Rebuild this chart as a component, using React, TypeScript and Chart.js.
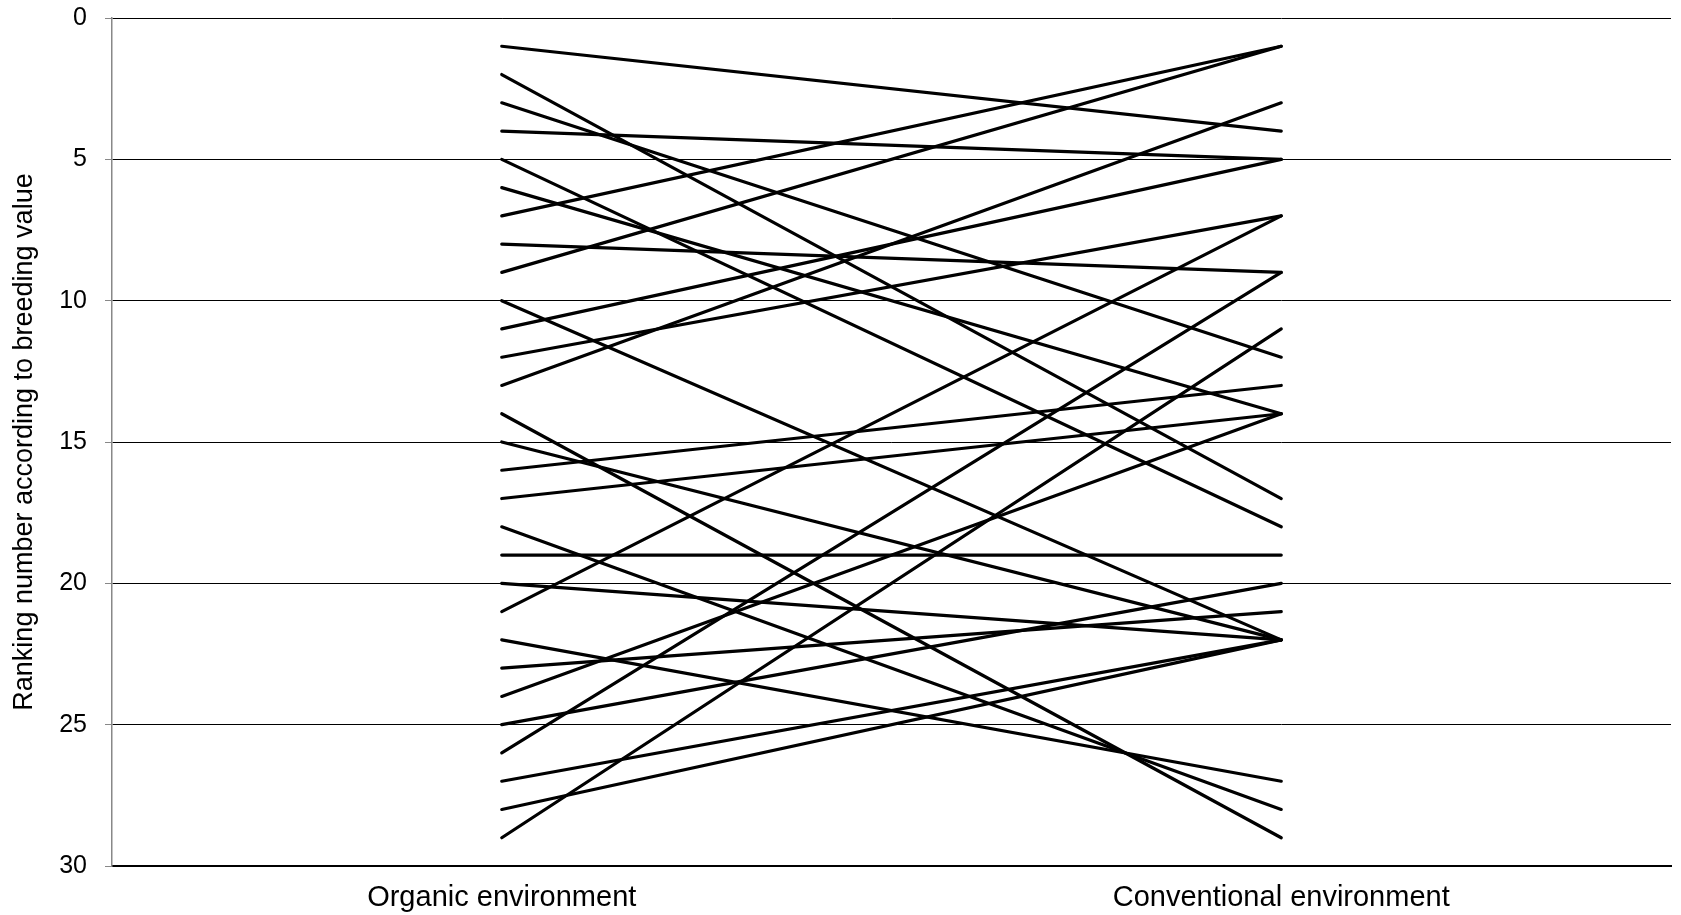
import React, { useEffect, useRef } from "react";
import { Chart, registerables } from "chart.js";

Chart.register(...registerables);

const categories = ["Organic environment", "Conventional environment"];
const organicRank = [1, 2, 3, 4, 5, 6, 7, 8, 9, 10, 11, 12, 13, 14, 15, 16, 17, 18, 19, 20, 21, 22, 23, 24, 25, 26, 27, 28, 29];
const conventionalRank = [4, 17, 12, 5, 18, 14, 1, 9, 1, 22, 5, 7, 3, 29, 22, 13, 14, 28, 19, 22, 7, 27, 21, 14, 20, 9, 22, 22, 11];
const yTicks = [0, 5, 10, 15, 20, 25, 30];
const yTitle = "Ranking number according to breeding value";

const FONT = '"Liberation Sans", Arial, sans-serif';

export default function App() {
  const ref = useRef<HTMLCanvasElement | null>(null);

  useEffect(() => {
    if (!ref.current) return;
    const datasets = organicRank.map((o, i) => ({
      label: "Line " + (i + 1),
      data: [o, conventionalRank[i]],
      borderColor: "#000000",
      backgroundColor: "#000000",
      borderWidth: 3.2,
      borderCapStyle: "round" as const,
      pointRadius: 0,
      pointHoverRadius: 0,
      tension: 0,
      fill: false,
    }));
    const chart = new Chart(ref.current, {
      type: "line",
      data: { labels: categories, datasets },
      options: {
        animation: false,
        responsive: false,
        devicePixelRatio: 1,
        layout: { padding: { top: 18, right: 10, bottom: 0, left: 0 } },
        plugins: { legend: { display: false }, tooltip: { enabled: false } },
        scales: {
          x: {
            type: "category",
            offset: true,
            grid: { display: false, drawTicks: false },
            border: { display: true, color: "#000000", width: 2 },
            ticks: {
              padding: 15,
              color: "#000000",
              font: { family: FONT, size: 29 },
            },
            afterFit: (s: any) => {
              s.height = 49;
              s.paddingLeft = 0;
              s.paddingRight = 0;
            },
          },
          y: {
            type: "linear",
            reverse: true,
            min: yTicks[0],
            max: yTicks[yTicks.length - 1],
            afterBuildTicks: (s: any) => {
              s.ticks = yTicks.map((v) => ({ value: v }));
            },
            grid: { color: "#000000", lineWidth: 1, tickColor: "#888888", tickLength: 7 },
            border: { display: true, color: "#888888", width: 1.5 },
            ticks: {
              padding: 18,
              color: "#000000",
              font: { family: FONT, size: 25 },
            },
            title: {
              display: true,
              text: yTitle,
              color: "#000000",
              font: { family: FONT, size: 27 },
              padding: { top: 8, bottom: 0 },
            },
            afterFit: (s: any) => {
              s.width = 112;
              s.paddingTop = 0;
              s.paddingBottom = 0;
            },
          },
        },
      },
    });
    return () => chart.destroy();
  }, []);

  return (
    <div style={{ position: "fixed", left: 0, top: 0, width: 1681, height: 915, background: "#fff" }}>
      <canvas ref={ref} width={1681} height={915} style={{ display: "block", width: 1681, height: 915 }} />
    </div>
  );
}
